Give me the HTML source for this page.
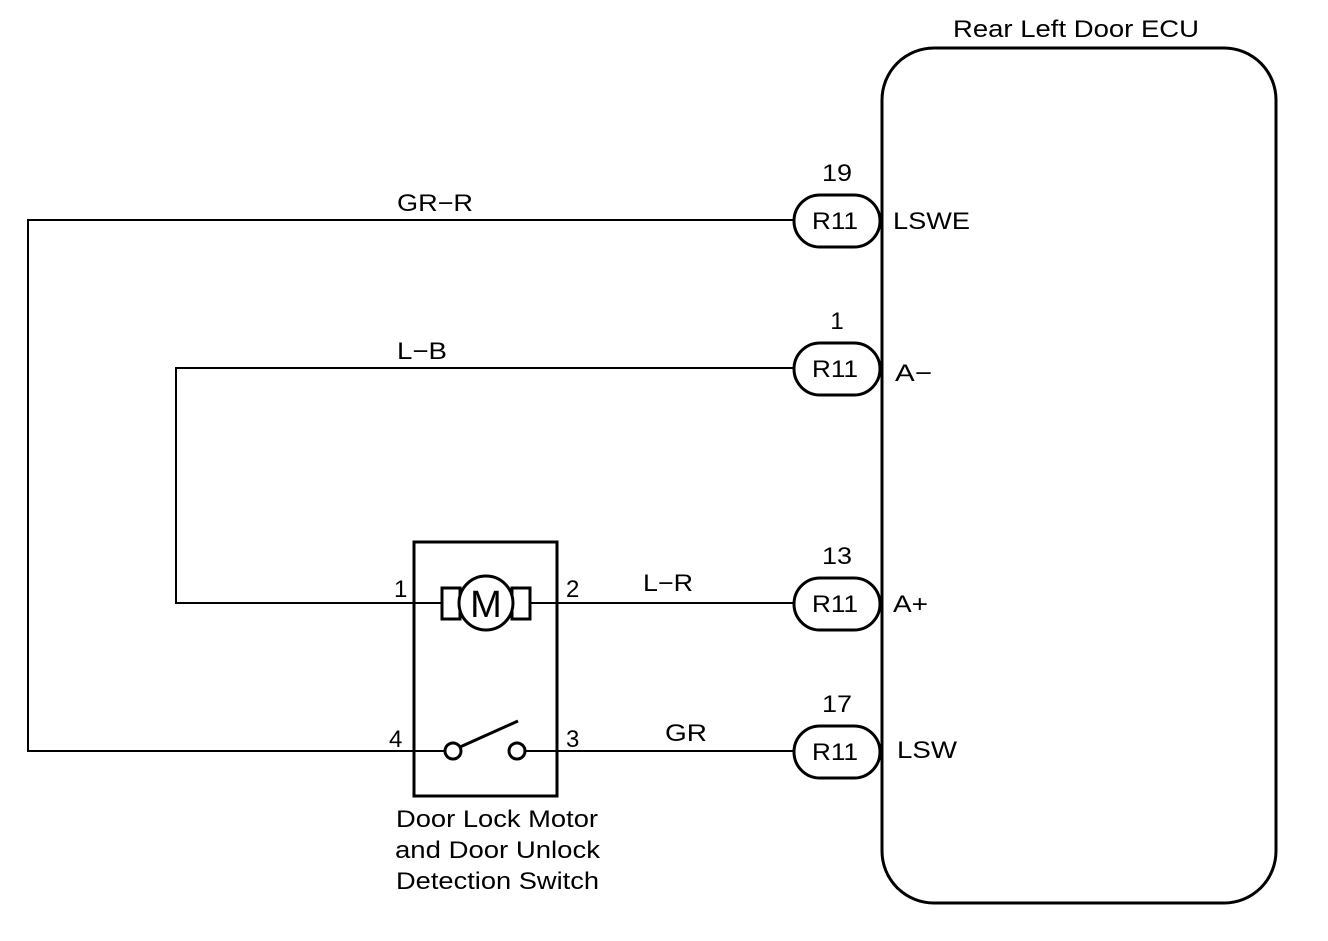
<!DOCTYPE html>
<html><head><style>body{margin:0;background:#fff}</style></head><body>
<svg width="1328" height="936" xmlns="http://www.w3.org/2000/svg" font-family="Liberation Sans, sans-serif" fill="none" stroke="#000">
<rect x="882" y="48" width="394" height="855" rx="52" stroke-width="3"/>
<g stroke-width="2">
<polyline points="793,220 28,220 28,751 413,751"/>
<polyline points="793,368 176,368 176,603 441,603"/>
<line x1="530" y1="603" x2="793" y2="603"/>
<line x1="525" y1="751" x2="793" y2="751"/>
</g>
<g stroke-width="3">
<rect x="794" y="195" width="86" height="52" rx="26"/>
<rect x="794" y="343" width="86" height="52" rx="26"/>
<rect x="794" y="578" width="86" height="52" rx="26"/>
<rect x="794" y="726" width="86" height="52" rx="26"/>
<rect x="414" y="542" width="143" height="254"/>
<rect x="442" y="588" width="18" height="31"/>
<rect x="512" y="588" width="18" height="31"/>
<circle cx="486" cy="603" r="27" fill="#fff"/>
<circle cx="453" cy="751" r="8" fill="#fff"/>
<circle cx="517" cy="751" r="8" fill="#fff"/>
<line x1="460" y1="747" x2="518" y2="721"/>
</g>
<line x1="414" y1="751" x2="445" y2="751" stroke-width="2"/>
<g fill="#000" stroke="none" font-size="24" lengthAdjust="spacingAndGlyphs">
<text x="812" y="229" textLength="46" lengthAdjust="spacingAndGlyphs">R11</text>
<text x="812" y="377" textLength="46" lengthAdjust="spacingAndGlyphs">R11</text>
<text x="812" y="612" textLength="46" lengthAdjust="spacingAndGlyphs">R11</text>
<text x="812" y="760" textLength="46" lengthAdjust="spacingAndGlyphs">R11</text>
<text x="822" y="181" textLength="30" lengthAdjust="spacingAndGlyphs">19</text>
<text x="837" y="329" text-anchor="middle">1</text>
<text x="822" y="564" textLength="30" lengthAdjust="spacingAndGlyphs">13</text>
<text x="822" y="712" textLength="30" lengthAdjust="spacingAndGlyphs">17</text>
<text x="893" y="229" textLength="77" lengthAdjust="spacingAndGlyphs">LSWE</text>
<text x="895" y="381" textLength="37" lengthAdjust="spacingAndGlyphs">A−</text>
<text x="893" y="612" textLength="35" lengthAdjust="spacingAndGlyphs">A+</text>
<text x="897" y="758" textLength="60" lengthAdjust="spacingAndGlyphs">LSW</text>
<text x="953" y="37" textLength="246" lengthAdjust="spacingAndGlyphs">Rear Left Door ECU</text>
<text x="397" y="211" textLength="76" lengthAdjust="spacingAndGlyphs">GR−R</text>
<text x="397" y="359" textLength="50" lengthAdjust="spacingAndGlyphs">L−B</text>
<text x="643" y="591" textLength="50" lengthAdjust="spacingAndGlyphs">L−R</text>
<text x="665" y="741" textLength="42" lengthAdjust="spacingAndGlyphs">GR</text>
<text x="394" y="597">1</text>
<text x="566" y="597">2</text>
<text x="389" y="747">4</text>
<text x="566" y="747">3</text>
<text x="486" y="617" text-anchor="middle" font-size="38">M</text>
<text x="396" y="827" textLength="202" lengthAdjust="spacingAndGlyphs">Door Lock Motor</text>
<text x="395" y="858" textLength="205" lengthAdjust="spacingAndGlyphs">and Door Unlock</text>
<text x="396" y="889" textLength="203" lengthAdjust="spacingAndGlyphs">Detection Switch</text>
</g>
</svg>
</body></html>
